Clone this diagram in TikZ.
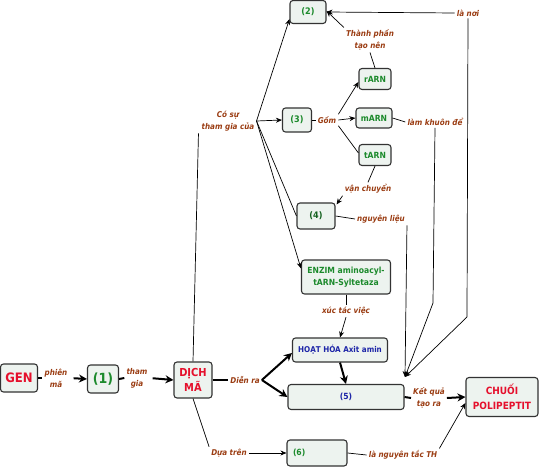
\documentclass[tikz,border=0pt]{standalone}
\usepackage{fontspec}
\setmainfont{DejaVu Sans Condensed}
\usetikzlibrary{arrows.meta,calc}
\definecolor{boxfill}{HTML}{EDF3EF}
\definecolor{boxdraw}{HTML}{333333}
\definecolor{labc}{HTML}{9A3C12}
\definecolor{redt}{HTML}{E5102C}
\definecolor{greent}{HTML}{1C8A2C}
\definecolor{bluet}{HTML}{1E26A8}
\tikzset{
  box/.style={draw=boxdraw, line width=1.1pt, rounded corners=3pt, fill=boxfill,
    inner sep=0pt, align=center, font=\bfseries\fontsize{8.5}{12.5}\selectfont},
  lab/.style={text=labc, font=\bfseries\itshape\fontsize{8}{12}\selectfont,
    align=center, inner sep=2pt},
  thinln/.style={line width=0.7pt},
  thickln/.style={line width=2pt},
  arr/.style={-{Stealth[length=6pt,width=5pt]}},
  tarr/.style={-{Stealth[length=8pt,width=8pt]}}
}
\begin{document}
\begin{tikzpicture}[x=1pt,y=-1pt]
\useasboundingbox (0,0) rectangle (539,468);
% boxes
\node[box, minimum width=37pt, minimum height=28pt, text=redt, font=\bfseries\fontsize{13}{15}\selectfont] (gen) at (19,378) {GEN};
\node[box, minimum width=31pt, minimum height=28pt, text=greent, font=\bfseries\fontsize{14}{16}\selectfont] (one) at (103,379) {(1)};
\node[box, minimum width=38pt, minimum height=36pt, text=redt, font=\bfseries\fontsize{11}{15}\selectfont] (dich) at (193,380) {DỊCH\\MÃ};
\node[box, minimum width=95pt, minimum height=24pt, text=bluet, font=\bfseries\fontsize{8}{12}\selectfont] (hoat) at (340,350) {HOẠT HÓA Axit amin};
\node[box, minimum width=116pt, minimum height=25pt, text=bluet, font=\bfseries\fontsize{8.5}{12}\selectfont] (five) at (346,397) {(5)};
\node[box, minimum width=89pt, minimum height=34pt, text=greent] (enzim) at (346,277) {ENZIM aminoacyl-\\tARN-Syltetaza};
\node[box, minimum width=38pt, minimum height=26pt, text=greent!70!black, font=\bfseries\fontsize{9}{12}\selectfont] (four) at (316,216) {(4)};
\node[box, minimum width=36pt, minimum height=23pt, text=greent, font=\bfseries\fontsize{9}{12}\selectfont] (two) at (308,12) {(2)};
\node[box, minimum width=29pt, minimum height=24pt, text=greent, font=\bfseries\fontsize{9}{12}\selectfont] (three) at (297,120) {(3)};
\node[box, minimum width=32pt, minimum height=21pt, text=greent] (rarn) at (375,79) {rARN};
\node[box, minimum width=36pt, minimum height=20pt, text=greent] (marn) at (374,118) {mARN};
\node[box, minimum width=32pt, minimum height=21pt, text=greent] (tarn) at (375,155) {tARN};
\node[box, minimum width=60pt, minimum height=26pt, text width=48pt, align=left, text=greent, font=\bfseries\fontsize{8.5}{12}\selectfont] (six) at (317,453) {(6)};
\node[box, minimum width=72pt, minimum height=39pt, text=redt, font=\bfseries\fontsize{10}{15}\selectfont] (chuoi) at (502,397) {CHUỐI\\POLIPEPTIT};
% labels
\node[lab] (phien) at (56,378) {phiên\\mã};
\node[lab] (thamgia) at (137,378) {tham\\gia};
\node[lab] (dienra) at (245,380) {Diễn ra};
\node[lab] (xuctac) at (346,311) {xúc tác việc};
\node[lab] (nguyen) at (381,219) {nguyên liệu};
\node[lab] (thanh) at (370,40) {Thành phần\\tạo nên};
\node[lab] (vanchuyen) at (368,189) {vận chuyển};
\node[lab] (gom) at (327,120) {Gồm};
\node[lab] (cosu) at (228,121) {Có sự\\tham gia của};
\node[lab] (lamkhuon) at (435,122) {làm khuôn để};
\node[lab] (lanoi) at (468,13) {là nơi};
\node[lab] (duatren) at (229,453) {Dựa trên};
\node[lab] (languyen) at (403,455) {là nguyên tắc TH};
\node[lab] (ketqua) at (429,398) {Kết quả\\tạo ra};
\coordinate (conv) at (405,377);
\coordinate (bendA) at (433,303);
\coordinate (bendB) at (467,317);
% thick main flow
\draw[thickln] (gen.east) -- (phien.west);
\draw[thickln, tarr, shorten <=4pt] (phien.east) -- (one.west);
\draw[thickln] (one.east) -- (thamgia.west);
\draw[thickln, tarr, shorten <=3pt] (thamgia.east) -- (dich.west);
\draw[thickln] (dich.east) -- (dienra.west);
\draw[thickln, tarr] (dienra.east) -- ([yshift=-3pt]hoat.west);
\draw[thickln, tarr] (dienra.east) -- (five.west);
\draw[thickln, tarr] (hoat.south) -- (five.north);
\draw[thickln] (five.east) -- (ketqua.west);
\draw[thickln, tarr] (ketqua.east) -- (chuoi.west);
% thin connectors
\draw[thinln] (dich.north) -- ([xshift=-1pt]cosu.south west);
\draw[thinln, arr] (cosu.east) -- ([yshift=5pt]two.south west);
\draw[thinln, arr] (cosu.east) -- (three.west);
\draw[thinln] (cosu.east) -- (four.west);
\draw[thinln, arr] (cosu.east) -- ([yshift=-9pt]enzim.north west);
\draw[thinln] (three.east) -- (gom.west);
\draw[thinln, arr] (gom.north east) -- ([yshift=-3pt]rarn.west);
\draw[thinln, arr] (gom.east) -- (marn.west);
\draw[thinln] (gom.south east) -- ([yshift=2pt]tarn.west);
\draw[thinln] (rarn.north) -- (thanh.south);
\draw[thinln, arr] (thanh.north west) -- ([yshift=1pt]two.east);
\draw[thinln, arr] (lanoi.west) -- (two.east);
\draw[thinln, arr] (lanoi.south) -- (bendB) -- (conv);
\draw[thinln] (marn.east) -- (lamkhuon.west);
\draw[thinln, arr] (lamkhuon.south) -- (bendA) -- (conv);
\draw[thinln] (four.east) -- (nguyen.west);
\draw[thinln, arr] (nguyen.south east) -- (conv);
\draw[thinln] (tarn.south) -- (vanchuyen.north);
\draw[thinln, arr] (vanchuyen.south west) -- ([xshift=1pt,yshift=-2pt]four.north east);
\draw[thinln] (enzim.south) -- (xuctac.north);
\draw[thinln, arr] (xuctac.south) -- (hoat.north);
\draw[thinln] (dich.south) -- (duatren.north west);
\draw[thinln, arr] (duatren.east) -- (six.west);
\draw[thinln] (six.east) -- (languyen.west);
\draw[thinln, arr] (languyen.north east) -- ([yshift=-6pt]chuoi.west);
\end{tikzpicture}
\end{document}
